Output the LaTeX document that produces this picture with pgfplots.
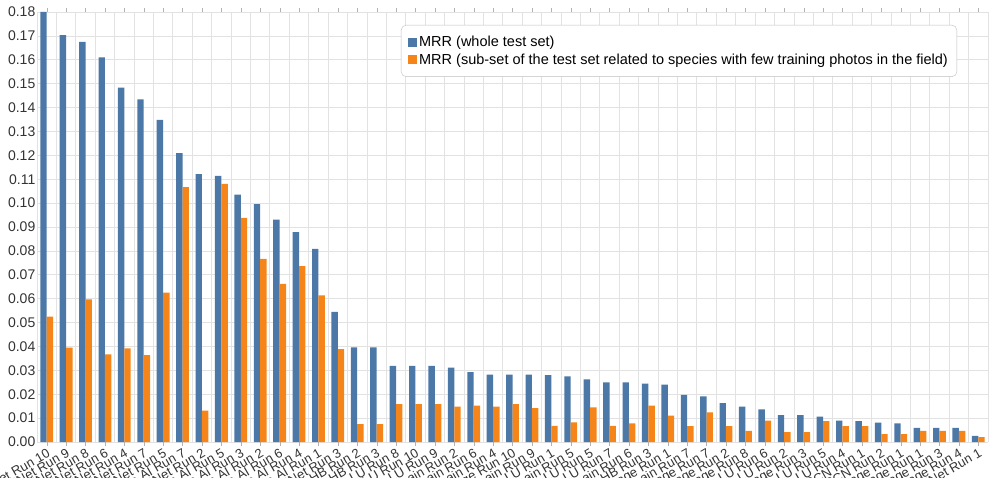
\documentclass[border=0pt]{standalone}
\usepackage{pgfplots}
\pgfplotsset{compat=1.18}
\usepackage{pgfplotstable}
\usepackage{fontspec}
\setmainfont{Liberation Sans}
\definecolor{vblue}{HTML}{4C78A8}
\definecolor{vorange}{HTML}{F58518}
\definecolor{vgrid}{HTML}{E2E2E2}
\definecolor{vtext}{HTML}{333333}
\pgfplotstableread{
i a b
0 0.1800 0.0525
1 0.1703 0.0395
2 0.1675 0.0597
3 0.1610 0.0367
4 0.1483 0.0392
5 0.1434 0.0364
6 0.1348 0.0625
7 0.1209 0.1067
8 0.1121 0.0131
9 0.1114 0.1081
10 0.1035 0.0938
11 0.0996 0.0767
12 0.0931 0.0662
13 0.0879 0.0736
14 0.0808 0.0614
15 0.0545 0.0389
16 0.0396 0.0075
17 0.0396 0.0075
18 0.0319 0.0159
19 0.0319 0.0159
20 0.0319 0.0159
21 0.0311 0.0148
22 0.0292 0.0152
23 0.0282 0.0148
24 0.0282 0.0159
25 0.0282 0.0142
26 0.0280 0.0068
27 0.0275 0.0082
28 0.0262 0.0145
29 0.0250 0.0068
30 0.0250 0.0078
31 0.0244 0.0152
32 0.0240 0.0110
33 0.0197 0.0066
34 0.0191 0.0124
35 0.0163 0.0066
36 0.0148 0.0047
37 0.0137 0.0089
38 0.0112 0.0041
39 0.0112 0.0041
40 0.0106 0.0087
41 0.0089 0.0066
42 0.0087 0.0066
43 0.0081 0.0033
44 0.0078 0.0033
45 0.0059 0.0047
46 0.0059 0.0047
47 0.0059 0.0047
48 0.0026 0.0020
}\data
\begin{document}
\begin{tikzpicture}[x=1pt,y=1pt]
\begin{axis}[
  at={(37pt,35pt)}, anchor=south west,
  scale only axis, width=951pt, height=430pt,
  ybar=0pt, bar width=0.33,
  xmin=-0.5, xmax=48.5, ymin=0, ymax=0.18,
  xtick={0,...,48},
  xticklabels={{ITCR PlantNet Run 10},{ITCR PlantNet Run 9},{ITCR PlantNet Run 8},{ITCR PlantNet Run 6},{ITCR PlantNet Run 4},{ITCR PlantNet Run 7},{ITCR PlantNet Run 5},{Neuon AI Run 7},{ITCR PlantNet Run 2},{Neuon AI Run 5},{Neuon AI Run 3},{Neuon AI Run 2},{Neuon AI Run 6},{Neuon AI Run 4},{Neuon AI Run 1},{ITCR PlantNet Run 3},{Team HB Run 2},{Team HB Run 3},{Team LU Run 8},{Team LU Run 10},{Team LU Run 9},{Team Domain Run 2},{Team Domain Run 6},{Team Domain Run 4},{Team Sage Run 10},{Team Domain Run 9},{Team LU Run 1},{Team Domain Run 5},{Team LU Run 5},{Team LU Run 7},{Team Domain Run 6},{Team HB Run 3},{Team Sage Run 1},{Team Domain Run 7},{Team Sage Run 7},{Team Sage Run 2},{Team Sage Run 8},{Team LU Run 6},{Team LU Run 2},{Team Sage Run 3},{Team LU Run 5},{Team LU Run 4},{Team SCN Run 1},{Team SCN Run 2},{Team Sage Run 1},{Team Sage Run 1},{Team Sage Run 3},{Team Sage Run 4},{ITCR PlantNet Run 1}},
  minor xtick={-0.5,0.5,...,48.5},
  xminorgrids, minor x grid style={vgrid, line width=0.8pt},
  ytick={0,0.01,0.02,0.03,0.04,0.05,0.06,0.07,0.08,0.09,0.10,0.11,0.12,0.13,0.14,0.15,0.16,0.17,0.18},
  ymajorgrids, major y grid style={vgrid, line width=0.6pt},
  axis line style={draw=none},
  xtick align=outside,
  major tick length=4pt, minor tick length=0pt,
  x tick style={color=black!30},
  y tick style={draw=none},
  /pgf/number format/assume math mode=true,
  yticklabel style={/pgf/number format/.cd, fixed, fixed zerofill, precision=2, /tikz/.cd, font=\fontsize{14}{16}\selectfont, text=vtext, inner sep=1.5pt},
  xticklabel style={rotate=30, anchor=north east, font=\fontsize{13}{15}\selectfont, text=vtext, inner sep=1pt},
  legend style={at={(0.3827,0.9698)}, anchor=north west, draw=black!25, rounded corners=5pt,
    font=\fontsize{14.5}{17}\selectfont, inner xsep=7pt, inner ysep=9pt, cells={anchor=west}, row sep=1.5pt},
  legend image code/.code={\fill[#1, sharp corners] (0pt,-4.5pt) rectangle (9pt,4.5pt);},
]
\addplot[fill=vblue, draw=none] table[x=i, y=a] {\data};
\addplot[fill=vorange, draw=none] table[x=i, y=b] {\data};
\legend{MRR (whole test set), MRR (sub-set of the test set related to species with few training photos in the field)}
\end{axis}
\pgfresetboundingbox
\useasboundingbox (0,0) rectangle (993,477);
\end{tikzpicture}
\end{document}
